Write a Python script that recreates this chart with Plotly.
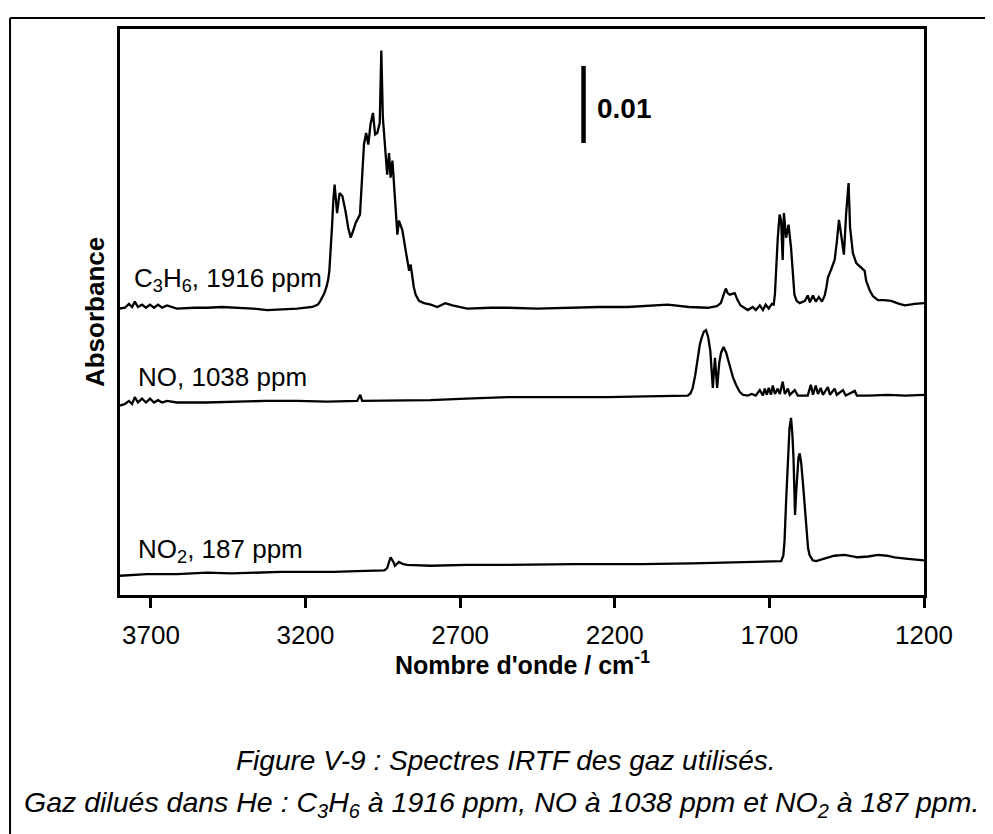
import plotly.graph_objects as go

# ---- data (wavenumber cm-1, absorbance above each spectrum's own baseline) ----
c3h6_wn = [3800, 3784, 3771, 3761, 3752, 3742, 3729, 3716, 3703, 3690, 3677, 3664, 3648, 3616,
           3560, 3518, 3470, 3421, 3370, 3324, 3270, 3227, 3178, 3160, 3152, 3140, 3133, 3127,
           3123, 3118, 3114, 3110, 3106, 3098, 3090, 3081, 3071, 3062, 3054, 3046, 3038, 3024,
           3018, 3011, 3004, 2997, 2990, 2982, 2975, 2968, 2960, 2955, 2950, 2941, 2936, 2930,
           2925, 2919, 2909, 2903, 2898, 2887, 2876, 2871, 2865, 2860, 2855, 2850, 2844, 2838,
           2833, 2817, 2795, 2774, 2748, 2725, 2677, 2600, 2547, 2450, 2353, 2250, 2158, 2090,
           2029, 1960, 1899, 1870, 1857, 1848, 1841, 1835, 1828, 1812, 1803, 1793, 1770, 1754,
           1744, 1731, 1721, 1712, 1702, 1692, 1686, 1682, 1679, 1673, 1667, 1662, 1657, 1653,
           1646, 1638, 1630, 1625, 1619, 1612, 1602, 1585, 1576, 1569, 1559, 1550, 1540, 1530,
           1521, 1515, 1511, 1500, 1489, 1482, 1475, 1468, 1459, 1452, 1444, 1439, 1430, 1419,
           1403, 1392, 1387, 1376, 1365, 1349, 1330, 1306, 1280, 1262, 1245, 1230, 1200]
c3h6_abs = [-0.0001, 0.0000, 0.0005, 0.0001, 0.0008, 0.0001, 0.0004, 0.0000, 0.0004, 0.0000,
            0.0004, 0.0000, 0.0003, -0.0001, 0.0000, 0.0000, 0.0001, 0.0000, -0.0001, -0.0003,
            -0.0002, -0.0001, 0.0001, 0.0004, 0.0009, 0.0018, 0.0026, 0.0036, 0.0048, 0.0075,
            0.0108, 0.0140, 0.0160, 0.0123, 0.0149, 0.0145, 0.0126, 0.0104, 0.0091, 0.0100,
            0.0110, 0.0121, 0.0160, 0.0212, 0.0227, 0.0212, 0.0238, 0.0253, 0.0225, 0.0227,
            0.0240, 0.0334, 0.0247, 0.0204, 0.0173, 0.0201, 0.0169, 0.0191, 0.0121, 0.0095,
            0.0113, 0.0101, 0.0074, 0.0061, 0.0048, 0.0056, 0.0039, 0.0027, 0.0017, 0.0012,
            0.0009, 0.0006, 0.0004, 0.0001, 0.0006, 0.0003, -0.0001, 0.0000, 0.0000, -0.0001,
            0.0000, 0.0001, 0.0001, 0.0003, 0.0004, 0.0001, 0.0000, 0.0002, 0.0006, 0.0017,
            0.0025, 0.0019, 0.0017, 0.0019, 0.0010, 0.0003, -0.0003, 0.0001, -0.0003, 0.0003,
            -0.0003, 0.0004, -0.0001, 0.0005, 0.0004, 0.0018, 0.0043, 0.0090, 0.0121, 0.0113,
            0.0062, 0.0123, 0.0091, 0.0108, 0.0078, 0.0045, 0.0017, 0.0009, 0.0006, 0.0009,
            0.0016, 0.0007, 0.0016, 0.0008, 0.0014, 0.0008, 0.0016, 0.0028, 0.0039, 0.0050,
            0.0062, 0.0085, 0.0114, 0.0095, 0.0069, 0.0121, 0.0162, 0.0104, 0.0071, 0.0058,
            0.0052, 0.0048, 0.0035, 0.0023, 0.0015, 0.0010, 0.0010, 0.0009, 0.0005, 0.0003,
            0.0004, 0.0005, 0.0006]

no_wn = [3800, 3784, 3771, 3761, 3752, 3742, 3729, 3716, 3703, 3690, 3677, 3664, 3648, 3616,
         3520, 3421, 3330, 3227, 3130, 3033, 3023, 3017, 2900, 2796, 2680, 2547, 2400, 2223,
         2100, 1964, 1955, 1948, 1940, 1932, 1925, 1919, 1912, 1905, 1898, 1891, 1886, 1883,
         1876, 1869, 1862, 1856, 1848, 1840, 1829, 1818, 1808, 1796, 1786, 1770, 1757, 1744,
         1731, 1721, 1715, 1708, 1702, 1695, 1689, 1682, 1673, 1666, 1657, 1650, 1640, 1634,
         1618, 1608, 1576, 1566, 1559, 1550, 1543, 1534, 1527, 1511, 1504, 1489, 1482, 1462,
         1453, 1424, 1417, 1381, 1317, 1260, 1200]
no_abs = [-0.0001, 0.0001, 0.0005, 0.0001, 0.0010, 0.0003, 0.0008, 0.0003, 0.0008, 0.0003,
          0.0006, 0.0003, 0.0005, 0.0003, 0.0003, 0.0004, 0.0005, 0.0005, 0.0004, 0.0005,
          0.0013, 0.0005, 0.0006, 0.0006, 0.0008, 0.0010, 0.0010, 0.0010, 0.0011, 0.0012,
          0.0015, 0.0022, 0.0038, 0.0061, 0.0078, 0.0087, 0.0095, 0.0097, 0.0088, 0.0070,
          0.0045, 0.0022, 0.0061, 0.0022, 0.0055, 0.0068, 0.0075, 0.0068, 0.0052, 0.0036,
          0.0026, 0.0017, 0.0013, 0.0012, 0.0014, 0.0012, 0.0019, 0.0012, 0.0021, 0.0013,
          0.0022, 0.0013, 0.0025, 0.0014, 0.0021, 0.0014, 0.0030, 0.0014, 0.0021, 0.0013,
          0.0019, 0.0012, 0.0012, 0.0026, 0.0013, 0.0025, 0.0014, 0.0022, 0.0013, 0.0023,
          0.0013, 0.0021, 0.0013, 0.0019, 0.0012, 0.0018, 0.0012, 0.0012, 0.0013, 0.0012,
          0.0013]

no2_wn = [3800, 3713, 3616, 3518, 3440, 3357, 3280, 3195, 3110, 3033, 2945, 2936, 2925, 2916,
          2911, 2898, 2884, 2871, 2796, 2680, 2547, 2330, 2116, 1950, 1793, 1700, 1662, 1655,
          1651, 1646, 1640, 1635, 1630, 1626, 1622, 1617, 1613, 1610, 1606, 1602, 1597, 1592,
          1586, 1581, 1575, 1570, 1560, 1549, 1530, 1511, 1490, 1457, 1435, 1414, 1380, 1349,
          1320, 1295, 1252, 1200]
no2_abs = [-0.0001, 0.0001, 0.0001, 0.0003, 0.0002, 0.0003, 0.0004, 0.0004, 0.0004, 0.0005,
           0.0006, 0.0009, 0.0023, 0.0017, 0.0012, 0.0017, 0.0014, 0.0013, 0.0012, 0.0013,
           0.0013, 0.0014, 0.0014, 0.0015, 0.0017, 0.0018, 0.0018, 0.0025, 0.0044, 0.0095,
           0.0152, 0.0190, 0.0204, 0.0185, 0.0152, 0.0078, 0.0110, 0.0130, 0.0152, 0.0158,
           0.0145, 0.0122, 0.0090, 0.0057, 0.0035, 0.0026, 0.0019, 0.0018, 0.0020, 0.0022,
           0.0025, 0.0026, 0.0024, 0.0023, 0.0024, 0.0026, 0.0025, 0.0023, 0.0021, 0.0019]

series_names = ["C<sub>3</sub>H<sub>6</sub>, 1916 ppm", "NO, 1038 ppm", "NO<sub>2</sub>, 187 ppm"]
series_offsets = [0.0373, 0.0247, 0.0026]
x_ticks = [3700, 3200, 2700, 2200, 1700, 1200]
scale_bar = 0.01

FONT = "Arial, 'Liberation Sans', Helvetica, sans-serif"

fig = go.Figure()
for wn, ab, off in [(c3h6_wn, c3h6_abs, series_offsets[0]),
                    (no_wn, no_abs, series_offsets[1]),
                    (no2_wn, no2_abs, series_offsets[2])]:
    fig.add_trace(go.Scatter(x=wn, y=[a + off for a in ab], mode="lines",
                             line=dict(color="black", width=2.3), showlegend=False,
                             hoverinfo="skip"))

# spectrum labels
label_pos = [(3761, 0.0410), (3748, 0.0283), (3748, 0.0058)]
for name, (lx, ly) in zip(series_names, label_pos):
    fig.add_annotation(x=lx, y=ly, text=name, showarrow=False, xanchor="left",
                       yanchor="middle", font=dict(family=FONT, size=26, color="black"))

# scale bar
fig.add_shape(type="line", x0=2301, x1=2301, y0=0.0587, y1=0.0587 + scale_bar,
              line=dict(color="black", width=4.5))
fig.add_annotation(x=2265, y=0.0632, text="<b>0.01</b>", showarrow=False, xanchor="left",
                   yanchor="middle", font=dict(family=FONT, size=28, color="black"))

# axis titles
fig.add_annotation(xref="paper", yref="paper", x=0.5, y=-0.12,
                   text="<b>Nombre d'onde / cm<sup>-1</sup></b>", showarrow=False,
                   xanchor="center", yanchor="middle",
                   font=dict(family=FONT, size=25, color="black"))
fig.add_annotation(xref="paper", yref="paper", x=-0.031, y=0.5, text="<b>Absorbance</b>",
                   textangle=-90, showarrow=False, xanchor="center", yanchor="middle",
                   font=dict(family=FONT, size=26, color="black"))

# caption
fig.add_annotation(xref="paper", yref="paper", x=(497 - 112) / 804, y=(587 - 752) / 566,
                   text="<i>Figure V-9 : Spectres IRTF des gaz utilisés.</i>", showarrow=False,
                   xanchor="center", yanchor="middle",
                   font=dict(family=FONT, size=28, color="black"))
fig.add_annotation(xref="paper", yref="paper", x=(493 - 112) / 804, y=(587 - 796) / 566,
                   text="<i>Gaz dilués dans He : C<sub>3</sub>H<sub>6</sub> à 1916 ppm, NO à 1038 ppm et NO<sub>2</sub> à 187 ppm.</i>",
                   showarrow=False, xanchor="center", yanchor="middle",
                   font=dict(family=FONT, size=28.5, color="black"))

# outer frame
fig.add_shape(type="line", xref="paper", yref="paper", x0=-0.1368, x1=1.2, y0=1.0194, y1=1.0194,
              line=dict(color="black", width=2))
fig.add_shape(type="line", xref="paper", yref="paper", x0=-0.1368, x1=-0.1368, y0=1.0194, y1=-0.5,
              line=dict(color="black", width=2))

fig.update_xaxes(range=[3800, 1200], tickvals=x_ticks, ticktext=[str(t) for t in x_ticks],
                 ticks="outside", ticklen=10, tickwidth=2.5, tickcolor="black",
                 ticklabelstandoff=5,
                 showline=True, linewidth=2.5, linecolor="black", mirror=True,
                 showgrid=False, zeroline=False,
                 tickfont=dict(family=FONT, size=26, color="black"))
fig.update_yaxes(range=[0, 0.0735], showticklabels=False, ticks="",
                 showline=True, linewidth=2.5, linecolor="black", mirror=True,
                 showgrid=False, zeroline=False)

fig.update_layout(width=993, height=834, plot_bgcolor="white", paper_bgcolor="white",
                  margin=dict(l=112, r=77, t=21, b=247), showlegend=False,
                  font=dict(family=FONT, color="black"))

fig.write_html("out.html")
